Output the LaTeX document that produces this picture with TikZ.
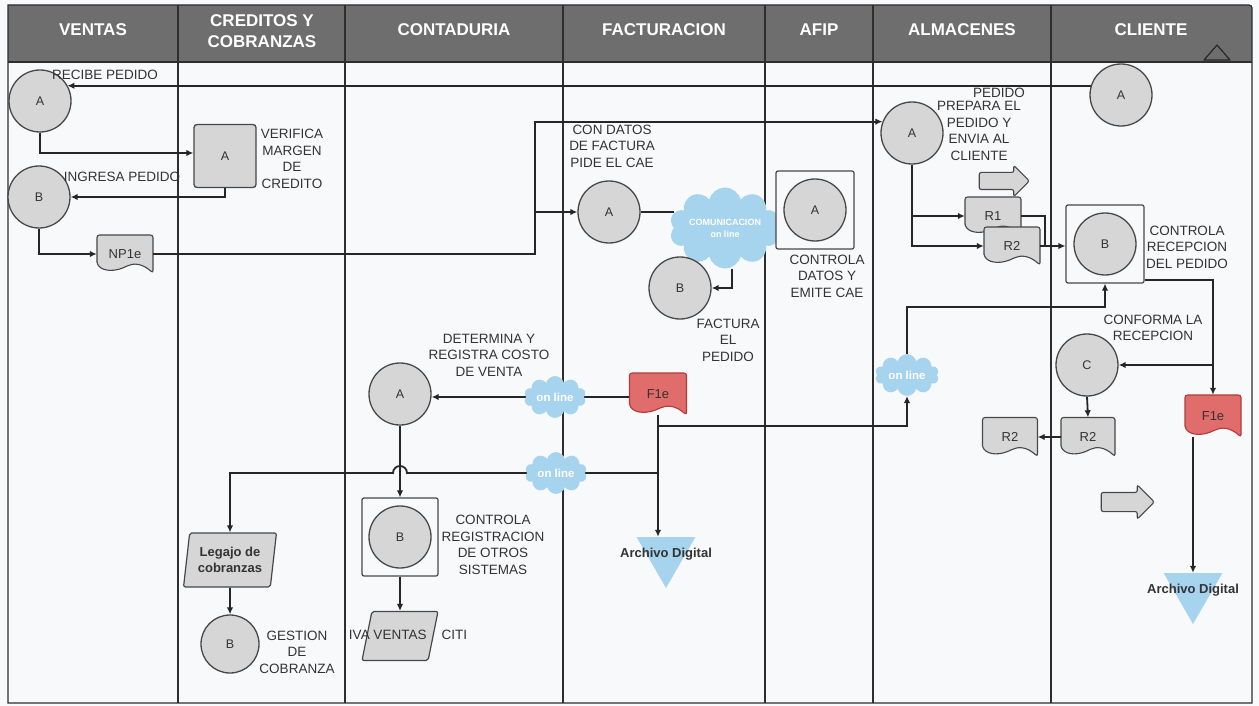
\documentclass[tikz,border=0pt]{standalone}
\usepackage{fontspec}
\setmainfont{Liberation Sans}
\usetikzlibrary{shapes.geometric,shapes.symbols,shapes.arrows,arrows.meta,calc}
\definecolor{headgray}{HTML}{6E6E6E}
\definecolor{shapegray}{HTML}{D6D6D6}
\definecolor{edgec}{HTML}{474747}
\definecolor{lanec}{HTML}{2E2E2E}
\definecolor{connc}{HTML}{262626}
\definecolor{skyb}{HTML}{A6D3EE}
\definecolor{redf}{HTML}{E06C6C}
\definecolor{redd}{HTML}{B33A3A}
\definecolor{pagebg}{HTML}{F8F9FB}
\definecolor{txtc}{HTML}{333333}
\pgfdeclarelayer{back}\pgfdeclarelayer{mid}\pgfdeclarelayer{lines}
\pgfsetlayers{back,mid,lines,main}
\newcommand\docshape[5]{%
\begin{pgfonlayer}{mid}
\begin{scope}[x=1pt,y=1pt,shift={(#1.center)}]
\draw[fill=#4,draw=#5,line width=1.1pt,rounded corners=2.5pt]
 ({-#2},{-#3+9}) -- ({-#2},{#3}) -- ({#2},{#3}) -- ({#2},{-#3})
 .. controls ({0.6*#2},{-#3+10}) and ({0.3*#2},{-#3+10}) .. (0,{-#3+6})
 .. controls ({-0.35*#2},{-#3+2}) and ({-0.75*#2},{-#3+1}) .. ({-#2},{-#3+9}) -- cycle;
\end{scope}
\end{pgfonlayer}}
\tikzset{
 hdr/.style={text=white,font=\bfseries\fontsize{17}{21}\selectfont,align=center,inner sep=0},
 lbl/.style={text=txtc,font=\fontsize{13.5}{16.5}\selectfont,align=center,inner sep=0},
 circ/.style={circle,draw=edgec,fill=shapegray,line width=1.3pt,minimum size=62pt,inner sep=0,text=txtc,font=\fontsize{12.5}{14}\selectfont},
 sqr/.style={rectangle,rounded corners=3pt,draw=edgec,fill=shapegray,line width=1.3pt,minimum width=62pt,minimum height=63pt,text=txtc,font=\fontsize{12.5}{14}\selectfont},
 boxn/.style={rectangle,rounded corners=2pt,draw=edgec,fill=pagebg,line width=1.2pt,minimum size=78pt,inner sep=0},
 docn/.style={rectangle,inner sep=0,minimum width=56pt,minimum height=38pt,text=txtc,font=\fontsize{13}{15}\selectfont},
 cloudn/.style={cloud,cloud puffs=10,aspect=1.7,fill=skyb,draw=none,minimum width=62pt,minimum height=38pt,inner sep=0,text=white,font=\bfseries\fontsize{11.5}{12}\selectfont,align=center},
 tri/.style={regular polygon,regular polygon sides=3,shape border rotate=180,fill=skyb,draw=none,minimum size=68pt,inner sep=0},
 archlbl/.style={text=txtc,font=\bfseries\fontsize{13}{15}\selectfont,inner sep=0},
 para/.style={trapezium,trapezium left angle=80,trapezium right angle=100,trapezium stretches=true,fill=shapegray,draw=edgec,line width=1.2pt,rounded corners=2pt,inner xsep=2pt,inner ysep=2pt,align=center,text=txtc},
 blk/.style={single arrow,fill=shapegray,draw=edgec,line width=1.1pt,minimum height=50pt,inner xsep=0pt,inner ysep=8pt,single arrow head extend=7pt,rounded corners=2pt},
 line/.style={draw=connc,line width=1.8pt},
 arr/.style={line,-{Latex[length=7pt,width=6.5pt]}}
}
\begin{document}
\begin{tikzpicture}[x=1pt,y=-1pt]
\useasboundingbox (0,0) rectangle (1259,706);
\begin{pgfonlayer}{back}
\fill[pagebg] (0,0) rectangle (1259,706);
\fill[headgray] (8,62) -- (8,5) -- (1245,5) .. controls (1252,5) .. (1252,12) -- (1252,62) -- cycle;
\foreach \xx in {178,345,563,765,873,1051} \draw[lanec,line width=1.1pt] (\xx,5) -- (\xx,703);
\draw[lanec,line width=1.1pt] (8,62) -- (1252,62);
\draw[lanec,line width=1.3pt] (8,703) -- (8,5) -- (1245,5) .. controls (1252,5) .. (1252,12) -- (1252,703) -- cycle;
\draw[connc,line width=1.2pt,line join=round] (1204,60) -- (1217,45) -- (1230,60) -- cycle;
\end{pgfonlayer}
% headers
\node[hdr] (hV) at (93,30) {VENTAS};
\node[hdr] (hC) at (262,31) {CREDITOS Y\\COBRANZAS};
\node[hdr] (hK) at (454,30) {CONTADURIA};
\node[hdr] (hF) at (664,30) {FACTURACION};
\node[hdr] (hA) at (819,30) {AFIP};
\node[hdr] (hL) at (962,30) {ALMACENES};
\node[hdr] (hX) at (1151,30) {CLIENTE};
% ventas / creditos
\node[circ] (vA) at (40,101) {A};
\node[circ] (vB) at (39,197) {B};
\node[sqr] (cA) at (225,156) {A};
\node[docn] (np1e) at (125,254) {NP1e}; \docshape{np1e}{28}{19}{shapegray}{edgec}
% facturacion / afip
\node[circ] (fA) at (609,212) {A};
\node[cloudn,minimum width=96pt,minimum height=60pt,font=\bfseries\fontsize{9}{12}\selectfont] (com) at (725,228) {COMUNICACION\\on line};
\node[boxn] (afbox) at (815,210) {};
\node[circ] (afA) at (815,210) {A};
\node[circ] (fB) at (680,288) {B};
\node[docn,minimum width=57pt,minimum height=42pt] (f1e) at (658,394) {F1e}; \docshape{f1e}{28.5}{21}{redf}{redd}
\node[cloudn] (on1) at (555,397) {on line};
\node[cloudn] (on2) at (556,473) {on line};
\node[tri,label={[archlbl]center:Archivo Digital}] (arch1) at (666,554) {};
% contaduria
\node[circ] (coA) at (400,394) {A};
\node[boxn,minimum width=76pt] (cobox) at (400,537) {};
\node[circ] (coB) at (400,537) {B};
\node[para,minimum width=76pt,minimum height=49pt] (iva) at (400,636) {};
\node[lbl] (ivat) at (408,635) {IVA VENTAS\hspace{15pt}CITI};
\node[para,minimum width=93pt,minimum height=54pt,font=\bfseries\fontsize{13}{16}\selectfont] (leg) at (230,560) {Legajo de\\cobranzas};
\node[circ,minimum size=58pt] (crB) at (230,644) {B};
% almacenes
\node[circ] (alA) at (912,133) {A};
\node[blk] (blk1) at (1000,181) {};
\node[docn] (r1) at (993,216) {R1}; \docshape{r1}{28}{19}{shapegray}{edgec}
\node[docn] (r2a) at (1012,246) {R2}; \docshape{r2a}{28}{19}{shapegray}{edgec}
\node[cloudn,minimum width=64pt] (on3) at (907,375) {on line};
% cliente
\node[circ] (clA) at (1121,95) {A};
\node[boxn] (clbox) at (1105,244) {};
\node[circ] (clB) at (1105,244) {B};
\node[circ] (clC) at (1087,365) {C};
\node[docn,minimum width=54pt,minimum height=39pt] (r2b) at (1088,437) {R2}; \docshape{r2b}{27}{19.5}{shapegray}{edgec}
\node[docn,minimum width=55pt,minimum height=39pt] (r2c) at (1010,437) {R2}; \docshape{r2c}{27.5}{19.5}{shapegray}{edgec}
\node[docn,minimum width=56pt,minimum height=42pt] (f1e2) at (1213,416) {F1e}; \docshape{f1e2}{28}{21}{redf}{redd}
\node[tri,label={[archlbl]center:Archivo Digital}] (arch2) at (1193,590) {};
\node[blk,minimum height=53pt,inner ysep=9pt,single arrow head extend=7.5pt] (blk2) at (1123,502) {};
% labels
\node[lbl] (t1) at (105,75) {RECIBE PEDIDO};
\node[lbl] (t2) at (122,177) {INGRESA PEDIDO};
\node[lbl] (t3) at (292,159) {VERIFICA\\MARGEN\\DE\\CREDITO};
\node[lbl] (t4) at (612,146) {CON DATOS\\DE FACTURA\\PIDE EL CAE};
\node[lbl] (t5) at (728,340) {FACTURA\\EL\\PEDIDO};
\node[lbl] (t6) at (827,276) {CONTROLA\\DATOS Y\\EMITE CAE};
\node[lbl] (t7) at (999,93) {PEDIDO};
\node[lbl] (t8) at (979,131) {PREPARA EL\\PEDIDO Y\\ENVIA AL\\CLIENTE};
\node[lbl] (t9) at (1187,247) {CONTROLA\\RECEPCION\\DEL PEDIDO};
\node[lbl] (t10) at (1153,328) {CONFORMA LA\\RECEPCION};
\node[lbl] (t11) at (489,355) {DETERMINA Y\\REGISTRA COSTO\\DE VENTA};
\node[lbl] (t12) at (493,545) {CONTROLA\\REGISTRACION\\DE OTROS\\SISTEMAS};
\node[lbl] (t13) at (297,652) {GESTION\\DE\\COBRANZA};
% connectors
\begin{pgfonlayer}{lines}
\coordinate (jx) at (535,254);
\coordinate (j3) at (1045,246);
\draw[arr] (clA.163) -- (vA.30 |- clA.163);
\draw[arr] (vA.south) |- ([yshift=3pt]cA.west);
\draw[arr] (cA.south) |- (vB.east);
\draw[arr] (vB.south) |- (np1e.west);
\draw[arr] (np1e.east) -- (jx) |- (alA.159);
\draw[arr] (jx |- fA.west) -- (fA.west);
\draw[line] (fA.east) -- (fA.east -| com.west);
\draw[arr] ($(afbox.west)+(-11pt,-7pt)$) -- ($(afbox.west)+(0pt,-7pt)$);
\draw[line] ($(afbox.west)+(-11pt,-24pt)$) -- ($(afbox.west)+(0pt,-24pt)$);
\draw[arr] ([xshift=7pt]com.south) |- (fB.east);
\draw[line] (on1.east -| f1e.west) -- (on1.east);
\draw[arr] (on1.west) -- (on1.west -| coA.east);
\draw[arr] (f1e.south) -- (f1e.south |- arch1.north);
\draw[arr] (f1e.south |- 0,426) -| (on3.south);
\draw[line] (f1e.south |- on2.east) -- (on2.east);
\draw[arr] (on2.west) -- ([xshift=7pt]coA.south |- on2.west) arc[start angle=0,end angle=180,radius=7pt] -- (leg.north |- on2.west) -- (leg.north);
\draw[arr] (coA.south) -- (cobox.north);
\draw[arr] (cobox.south) -- (iva.north);
\draw[arr] (leg.south) -- (crB.north);
\draw[arr] (alA.south) |- (r2a.west);
\draw[arr] (alA.south |- r1.west) -- (r1.west);
\draw[line] (r1.east) -| (j3);
\draw[arr] (r2a.east) -- (r2a.east -| clbox.west);
\draw[arr] (on3.north) |- (clbox.south |- 0,307) -- (clbox.south);
\draw[arr] ([yshift=4pt]clbox.south east) -| (f1e2.north);
\draw[arr] (f1e2.north |- clC.east) -- (clC.east);
\draw[arr] (clC.south) -- (r2b.north);
\draw[arr] (r2b.west) -- (r2c.east);
\draw[arr] (arch2.north |- f1e2.south) -- (arch2.north);
\end{pgfonlayer}
\end{tikzpicture}
\end{document}
